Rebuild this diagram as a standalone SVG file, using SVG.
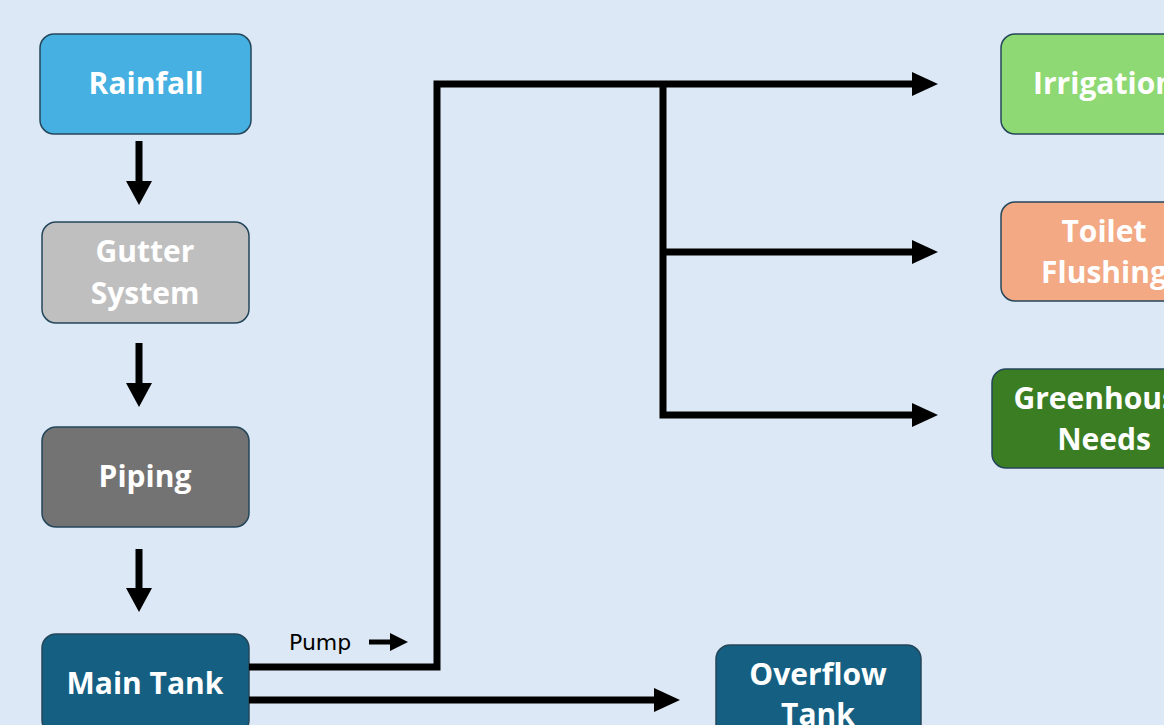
<svg xmlns="http://www.w3.org/2000/svg" width="1164" height="725" viewBox="0 0 1164 725">
<style>
.box{stroke:#24465a;stroke-width:1.5}
.t{font-family:"Open Sans","Liberation Sans",sans-serif;font-weight:700;font-size:30px;fill:#fff;text-anchor:middle}
.ln{fill:none;stroke:#000;stroke-width:7;stroke-linejoin:miter}
.hd{fill:#000}
</style>
<rect width="1164" height="725" fill="#dce8f5"/>
<g id="rainfall"><rect class="box" x="40" y="34" width="211" height="100" rx="14" fill="#45b0e1"/><text class="t" x="146" y="94">Rainfall</text></g>
<g id="gutter"><rect class="box" x="42" y="222" width="207" height="101" rx="14" fill="#bfbfbf"/><text class="t" x="145" y="262">Gutter</text><text class="t" x="145" y="304">System</text></g>
<g id="piping"><rect class="box" x="42" y="427" width="207" height="100" rx="14" fill="#737373"/><text class="t" x="145" y="487">Piping</text></g>
<g id="maintank"><rect class="box" x="42" y="634" width="207" height="100" rx="14" fill="#156082"/><text class="t" x="145" y="694">Main Tank</text></g>
<g id="irrigation"><rect class="box" x="1001" y="34" width="207" height="100" rx="14" fill="#8fd974"/><text class="t" x="1104" y="94">Irrigation</text></g>
<g id="toilet"><rect class="box" x="1001" y="202" width="207" height="99" rx="14" fill="#f2a984"/><text class="t" x="1104" y="242">Toilet</text><text class="t" x="1104" y="283">Flushing</text></g>
<g id="greenhouse"><rect class="box" x="992" y="369" width="224" height="99" rx="14" fill="#3b7d23"/><text class="t" x="1104" y="409">Greenhouse</text><text class="t" x="1104" y="450">Needs</text></g>
<g id="overflow"><rect class="box" x="716" y="645" width="205" height="100" rx="14" fill="#156082"/><text class="t" x="818" y="685">Overflow</text><text class="t" x="818" y="725">Tank</text></g>
<g id="connectors">
<line class="ln" x1="139" y1="141" x2="139" y2="182" stroke-width="6"/><path class="hd" d="M126,181 L152,181 L139,205 Z"/>
<line class="ln" x1="139" y1="343" x2="139" y2="384" stroke-width="6"/><path class="hd" d="M126,383 L152,383 L139,407 Z"/>
<line class="ln" x1="139" y1="549" x2="139" y2="589" stroke-width="6"/><path class="hd" d="M126,588 L152,588 L139,612 Z"/>
<polyline class="ln" points="249,667 437,667 437,84 913,84"/><path class="hd" d="M912,72 L938,84 L912,96 Z"/>
<polyline class="ln" points="663,84 663,415 913,415"/><path class="hd" d="M912,403 L938,415 L912,427 Z"/>
<line class="ln" x1="663" y1="252" x2="913" y2="252"/><path class="hd" d="M912,240 L938,252 L912,264 Z"/>
<line class="ln" x1="249" y1="700" x2="655" y2="700"/><path class="hd" d="M654,688 L680,700 L654,712 Z"/>
<line x1="369" y1="642" x2="392" y2="642" stroke="#000" stroke-width="5"/><path class="hd" d="M390,633 L408,642 L390,651 Z"/>
<text x="289" y="650" font-family="'DejaVu Sans','Liberation Sans',sans-serif" font-size="22" fill="#000">Pump</text>
</g>
</svg>
